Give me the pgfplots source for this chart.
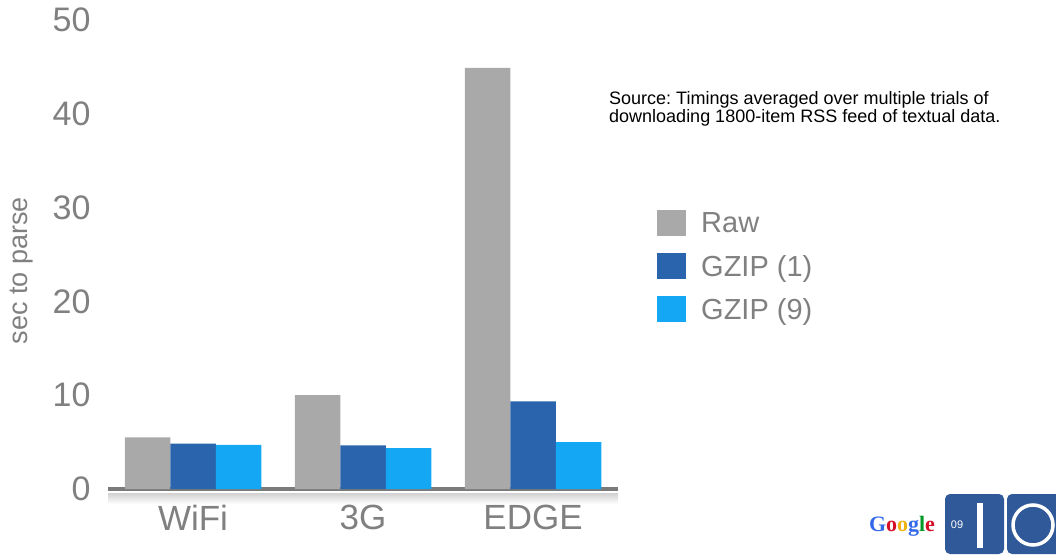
\documentclass[border=0pt]{standalone}
\usepackage{pgfplots}
\pgfplotsset{compat=1.18}
\usepackage{fontspec}
\setmainfont{Liberation Sans}
\newfontfamily\logofont{Liberation Serif}
\frenchspacing

\definecolor{rawgray}{HTML}{A9A9A9}
\definecolor{gzipone}{HTML}{2A64AD}
\definecolor{gzipnine}{HTML}{14A8F4}
\definecolor{txtgray}{HTML}{808080}
\definecolor{axisgray}{HTML}{7A7A7A}
\definecolor{ioblue}{HTML}{30599A}

\begin{document}
\begin{tikzpicture}[x=1pt,y=1pt]
\useasboundingbox (0,0) rectangle (1056,554);

% soft shadow under the baseline
\shade[top color=black!18, bottom color=white] (108,50) rectangle (618,61);

\begin{axis}[
  at={(108pt,65pt)}, anchor=south west,
  scale only axis, width=510pt, height=469pt,
  xmin=-0.5, xmax=2.5, ymin=0, ymax=50,
  ybar=0pt, bar width=45.5pt,
  xtick={0,1,2}, xticklabels={WiFi,3G,EDGE},
  ytick={0,10,...,50},
  axis x line*=bottom, axis y line*=left,
  x axis line style={draw=axisgray, line width=4pt, -},
  y axis line style={draw=none},
  major tick length=0pt,
  tick label style={font=\fontsize{34}{38}\selectfont, text=txtgray},
  xticklabel style={font=\fontsize{35}{38}\selectfont, yshift=-13pt},
  yticklabel style={xshift=-14pt},
  /pgf/number format/assume math mode=true,
  ylabel={sec to parse},
  ylabel style={at={(axis description cs:-0.169,0.465)}, anchor=center,
                font=\fontsize{27}{30}\selectfont, text=txtgray},
  clip=false,
  legend style={at={(axis description cs:1.0706,0.599)}, anchor=north west,
                draw=none, fill=none, font=\fontsize{29}{32}\selectfont,
                text=txtgray, row sep=17pt,
                nodes={inner sep=0pt, outer sep=0pt}},
  legend cell align=left,
  legend image code/.code={\fill[#1] (0pt,-13pt) rectangle (29pt,13pt);},
]
\addplot[draw=none, fill=rawgray] coordinates {(0,5.5) (1,10.0) (2,44.9)};
\addlegendentry{\hspace*{15pt}Raw}
\addplot[draw=none, fill=gzipone] coordinates {(0,4.85) (1,4.65) (2,9.35)};
\addlegendentry{\hspace*{15pt}GZIP (1)}
\addplot[draw=none, fill=gzipnine] coordinates {(0,4.7) (1,4.35) (2,5.0)};
\addlegendentry{\hspace*{15pt}GZIP (9)}
\end{axis}

% note on the data source
\node[anchor=north west, align=left, inner sep=0pt,
      font=\fontsize{18}{18}\selectfont] at (609,463)
  {Source: Timings averaged over multiple trials of\\
   downloading 1800-item RSS feed of textual data.};

% Google I/O 09 badge
\node[anchor=center, inner sep=0pt, font=\logofont\bfseries\fontsize{22}{24}\selectfont]
  at (902,28) {\textcolor[HTML]{3369E8}{G}\textcolor[HTML]{D50F25}{o}\textcolor[HTML]{EEB211}{o}\textcolor[HTML]{3369E8}{g}\textcolor[HTML]{009925}{l}\textcolor[HTML]{D50F25}{e}};
\fill[ioblue, rounded corners=5pt] (945,0) rectangle (1004,60);
\fill[ioblue, rounded corners=5pt] (1007,0) rectangle (1062,60);
\node[text=white, font=\fontsize{11}{12}\selectfont, inner sep=0pt] at (957,29) {09};
\fill[white] (977,6) rectangle (983,51);
\draw[white, line width=3.5pt] (1033,29) circle (20);
\end{tikzpicture}
\end{document}
